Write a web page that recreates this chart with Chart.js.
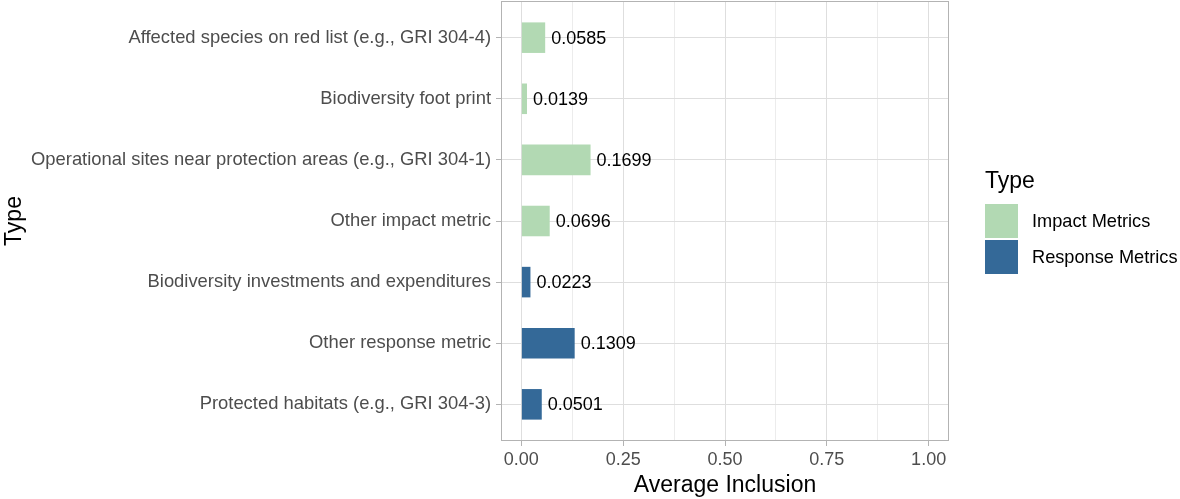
<!DOCTYPE html>
<html>
<head>
<meta charset="utf-8">
<script src="https://cdn.jsdelivr.net/npm/chart.js@4"></script>
<style>
  html, body { margin: 0; padding: 0; background: #fff; }
  #wrap { position: relative; width: 1180px; height: 499px; font-family: "Liberation Sans", Arial, sans-serif; }
  #legend { position: absolute; left: 985px; top: 167px; }
  #legend .title { font-size: 23px; color: #000; line-height: 26px; margin-bottom: 10px; }
  #legend .item { display: flex; align-items: center; height: 36px; }
  #legend .sw { width: 33px; height: 34px; margin-right: 14px; }
  #legend .lab { font-size: 18.2px; color: #000; }
</style>
</head>
<body>
<div id="wrap">
  <canvas id="c" width="1180" height="499"></canvas>
  <div id="legend"></div>
</div>
<script>
const categories = [
  "Affected species on red list (e.g., GRI 304-4)",
  "Biodiversity foot print",
  "Operational sites near protection areas (e.g., GRI 304-1)",
  "Other impact metric",
  "Biodiversity investments and expenditures",
  "Other response metric",
  "Protected habitats (e.g., GRI 304-3)"
];
const impactCategories = categories.slice(0, 4);
const impactValues = [0.0585, 0.0139, 0.1699, 0.0696];
const responseCategories = categories.slice(4);
const responseValues = [0.0223, 0.1309, 0.0501];
const seriesNames = ["Impact Metrics", "Response Metrics"];
const seriesColors = ["#b2d9b3", "#346998"];
const xTicks = [0, 0.25, 0.5, 0.75, 1];
const xMinorTicks = [0.125, 0.375, 0.625, 0.875];

const FONT = '"Liberation Sans", Arial, sans-serif';

function pts(cats, vals) {
  return cats.map((c, i) => ({ x: vals[i], y: categories.indexOf(c) + 1 }));
}

const valueLabels = {
  id: 'valueLabels',
  afterDatasetsDraw(chart) {
    const ctx = chart.ctx;
    const xs = chart.scales.x, ys = chart.scales.y;
    ctx.save();
    ctx.font = '18px ' + FONT;
    ctx.fillStyle = '#000';
    ctx.textAlign = 'left';
    ctx.textBaseline = 'middle';
    chart.data.datasets.forEach(ds => {
      ds.data.forEach(p => {
        ctx.fillText(p.x.toFixed(4), xs.getPixelForValue(p.x) + 6, ys.getPixelForValue(p.y) + 1);
      });
    });
    ctx.restore();
  }
};
const panelBorder = {
  id: 'panelBorder',
  afterDraw(chart) {
    const a = chart.chartArea, ctx = chart.ctx;
    ctx.save();
    ctx.strokeStyle = '#b3b3b3';
    ctx.lineWidth = 1;
    ctx.strokeRect(a.left + 0.5, a.top + 0.5, a.right - a.left - 1, a.bottom - a.top - 1);
    ctx.restore();
  }
};

const allX = xTicks.concat(xMinorTicks).sort((a, b) => a - b);

new Chart(document.getElementById('c'), {
  type: 'bar',
  data: {
    datasets: [
      { label: seriesNames[0], data: pts(impactCategories, impactValues), backgroundColor: seriesColors[0], borderWidth: 0 },
      { label: seriesNames[1], data: pts(responseCategories, responseValues), backgroundColor: seriesColors[1], borderWidth: 0 }
    ]
  },
  options: {
    indexAxis: 'y',
    responsive: false,
    animation: false,
    devicePixelRatio: 1,
    layout: { padding: { top: 1, right: 231, bottom: 0, left: 0 } },
    datasets: { bar: { grouped: false, barPercentage: 0.5, categoryPercentage: 1 } },
    plugins: { legend: { display: false }, tooltip: { enabled: false } },
    scales: {
      x: {
        type: 'linear', min: -0.05, max: 1.05,
        afterBuildTicks(s) { s.ticks = allX.map(v => ({ value: v })); },
        afterFit(s) { s.height = 58; s.paddingLeft = 0; s.paddingRight = 0; },
        border: { display: false },
        grid: {
          color: c => xMinorTicks.includes(c.tick && c.tick.value) ? '#ececec' : '#dedede',
          tickColor: c => xMinorTicks.includes(c.tick && c.tick.value) ? 'rgba(0,0,0,0)' : '#b3b3b3',
          tickLength: 5, lineWidth: 1
        },
        ticks: {
          autoSkip: false, maxRotation: 0, padding: 3,
          color: '#4d4d4d', font: { family: FONT, size: 18 },
          callback: v => xTicks.includes(v) ? v.toFixed(2) : ''
        },
        title: { display: true, text: 'Average Inclusion', color: '#000', font: { family: FONT, size: 23 }, padding: { top: 0, bottom: 0 } }
      },
      y: {
        type: 'linear', min: 0.4, max: 7.6, reverse: true, offset: false,
        afterBuildTicks(s) { s.ticks = categories.map((c, i) => ({ value: i + 1 })); },
        afterFit(s) { s.width = 501; s.paddingTop = 0; s.paddingBottom = 0; },
        border: { display: false },
        grid: { offset: false, color: '#dedede', tickColor: '#b3b3b3', tickLength: 5, lineWidth: 1 },
        ticks: {
          autoSkip: false, padding: 5,
          color: '#4d4d4d', font: { family: FONT, size: 18.4 },
          callback: v => categories[Math.round(v) - 1] || ''
        },
        title: { display: true, text: 'Type', color: '#000', font: { family: FONT, size: 23 }, padding: { top: 1, bottom: 0 } }
      }
    }
  },
  plugins: [valueLabels, panelBorder]
});

const leg = document.getElementById('legend');
let html = '<div class="title">Type</div>';
seriesNames.forEach((n, i) => {
  html += '<div class="item"><div class="sw" style="background:' + seriesColors[i] + '"></div><div class="lab">' + n + '</div></div>';
});
leg.innerHTML = html;
</script>
</body>
</html>
